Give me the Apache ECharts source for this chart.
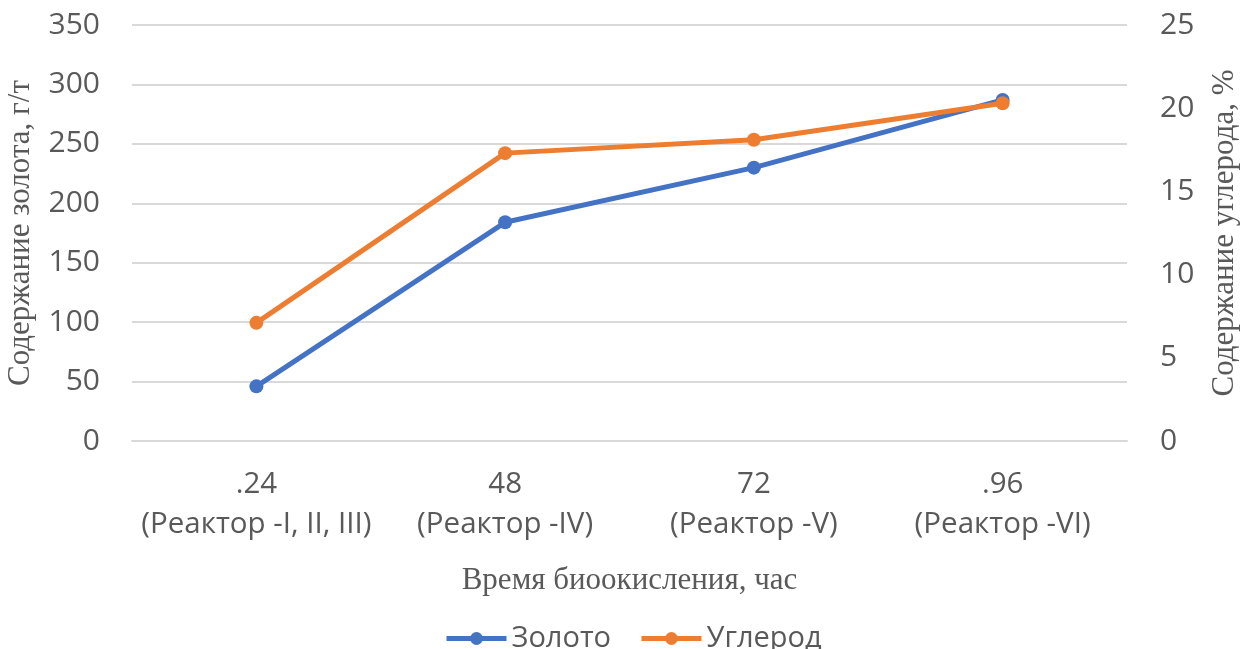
<!DOCTYPE html>
<html>
<head>
<meta charset="utf-8">
<script src="https://cdn.jsdelivr.net/npm/echarts@6/dist/echarts.min.js"></script>
<style>
  html, body { margin: 0; padding: 0; background: #fff; }
  #chart { width: 1242px; height: 649px; }
</style>
</head>
<body>
<div id="chart"></div>
<script>
// Biooxidation time categories (hours / reactor)
const categories = [
  '.24\n(Реактор -I, II, III)',
  '48\n(Реактор -IV)',
  '72\n(Реактор -V)',
  '.96\n(Реактор -VI)'
];
// Gold content, g/t (left axis)
const goldValues = [46, 184, 230, 287];
// Carbon content, % (right axis)
const carbonValues = [7.1, 17.3, 18.1, 20.3];

const labelColor = '#595959';
const sans = '"Open Sans", "Noto Sans", sans-serif';
const serif = '"Liberation Serif", "DejaVu Serif", serif';

const chart = echarts.init(document.getElementById('chart'), null, { renderer: 'canvas' });
chart.setOption({
  animation: false,
  backgroundColor: '#ffffff',
  grid: {
    left: 132, right: 115, top: 25, bottom: 208,
    containLabel: false, outerBoundsMode: 'none'
  },
  legend: {
    top: 619,
    left: 439,
    itemWidth: 60,
    itemHeight: 16,
    itemGap: 28,
    lineStyle: { width: 5 },
    textStyle: { fontFamily: sans, fontSize: 29, color: labelColor },
    data: ['Золото', 'Углерод']
  },
  xAxis: {
    type: 'category',
    data: categories,
    boundaryGap: true,
    axisLine: { show: true, lineStyle: { color: '#d9d9d9', width: 2 } },
    axisTick: { show: false },
    axisLabel: {
      fontFamily: sans, fontSize: 29.5, color: labelColor,
      lineHeight: 40, margin: 24, interval: 0
    },
    name: 'Время биоокисления, час',
    nameLocation: 'middle',
    nameGap: 124,
    nameTextStyle: { fontFamily: serif, fontSize: 31, color: labelColor }
  },
  yAxis: [
    {
      type: 'value',
      min: 0, max: 350, interval: 50,
      axisLine: { show: false },
      axisTick: { show: false },
      splitLine: { lineStyle: { color: '#d9d9d9', width: 2 } },
      axisLabel: { fontFamily: sans, fontSize: 30, color: labelColor, margin: 32 },
      name: 'Содержание золота, г/т',
      nameLocation: 'middle',
      nameGap: 96,
      nameTextStyle: { fontFamily: serif, fontSize: 31, color: labelColor }
    },
    {
      type: 'value',
      min: 0, max: 25, interval: 5,
      axisLine: { show: false },
      axisTick: { show: false },
      splitLine: { show: false },
      axisLabel: { fontFamily: sans, fontSize: 30, color: labelColor, margin: 33 },
      name: 'Содержание углерода, %',
      nameLocation: 'middle',
      nameGap: 82,
      nameRotate: 90,
      nameTextStyle: { fontFamily: serif, fontSize: 31, color: labelColor }
    }
  ],
  series: [
    {
      name: 'Золото',
      type: 'line',
      yAxisIndex: 0,
      data: goldValues,
      symbol: 'circle',
      symbolSize: 14,
      itemStyle: { color: '#4472C4' },
      lineStyle: { color: '#4472C4', width: 5 }
    },
    {
      name: 'Углерод',
      type: 'line',
      yAxisIndex: 1,
      data: carbonValues,
      symbol: 'circle',
      symbolSize: 14,
      itemStyle: { color: '#ED7D31' },
      lineStyle: { color: '#ED7D31', width: 5 }
    }
  ]
});
</script>
</body>
</html>
